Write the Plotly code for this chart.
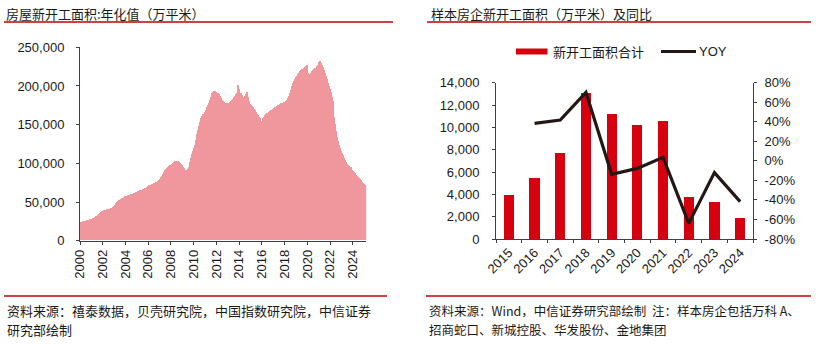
import pandas as pd
import plotly.graph_objects as go

# ---------------- data: left chart (monthly annualized new starts, 万平米) ----------------
start_month = "2000-01-01"
area_2000 = [23300, 23700, 24100, 24500, 24900, 25300, 25700, 26100, 26500, 26900, 27200, 27500]
area_2001 = [27800, 28500, 29300, 30100, 31000, 31900, 32800, 33700, 34500, 35400, 36400, 37400]
area_2002 = [38400, 38800, 39200, 39600, 40000, 40400, 40800, 41200, 41600, 42000, 43000, 44500]
area_2003 = [46000, 47300, 48500, 49600, 50700, 51700, 52700, 53600, 54400, 55200, 56000, 56900]
area_2004 = [57600, 58000, 58400, 58800, 59200, 59600, 60000, 60500, 61000, 61500, 62000, 62600]
area_2005 = [63200, 63700, 64200, 64700, 65200, 65700, 66200, 66700, 67400, 68200, 69200, 70200]
area_2006 = [71000, 71500, 72000, 72500, 73000, 73500, 74000, 74500, 75000, 76000, 77200, 78500]
area_2007 = [80000, 81500, 83500, 85500, 88000, 90500, 92500, 94000, 95000, 96000, 97000, 97500]
area_2008 = [98000, 99000, 100000, 101000, 102000, 102500, 103000, 102500, 101500, 100000, 98500, 97000]
area_2009 = [95000, 93000, 91000, 90500, 91000, 92500, 95000, 98000, 101000, 106000, 112000, 116000]
area_2010 = [119000, 123000, 130000, 137000, 143000, 148000, 153000, 158000, 161000, 163000, 164000, 166000]
area_2011 = [168000, 170000, 172000, 175000, 178000, 182000, 186000, 190000, 192000, 193500, 193000, 191500]
area_2012 = [190500, 190000, 189000, 187000, 184000, 182000, 180000, 179000, 178000, 177500, 177000, 176700]
area_2013 = [177000, 178000, 179000, 180000, 181500, 183000, 185000, 187000, 189000, 191000, 200500, 196000]
area_2014 = [191000, 190000, 188000, 186000, 185000, 186000, 187000, 189000, 192000, 186000, 180000, 176000]
area_2015 = [175000, 174000, 172000, 170000, 168000, 166000, 164000, 162000, 160000, 158000, 156000, 154700]
area_2016 = [156000, 158000, 160000, 162000, 163500, 164500, 165000, 166000, 167000, 168000, 169000, 170000]
area_2017 = [171000, 172000, 173000, 174000, 175000, 175500, 176000, 176500, 177000, 177500, 178000, 178500]
area_2018 = [179500, 180500, 182000, 184000, 187000, 191000, 195000, 199000, 203000, 206000, 209000, 211000]
area_2019 = [212500, 214000, 215500, 217000, 218500, 220000, 221000, 222000, 223000, 224000, 225500, 227000]
area_2020 = [216000, 215500, 215000, 217000, 219000, 220500, 221500, 222500, 223000, 224000, 225000, 226500]
area_2021 = [231000, 231500, 229000, 227000, 224000, 220000, 216000, 212000, 208000, 204000, 200000, 196000]
area_2022 = [192000, 186000, 180000, 170000, 160000, 150000, 142000, 134000, 128000, 123000, 119000, 116000]
area_2023 = [113000, 110000, 107000, 104000, 101000, 98500, 97000, 96000, 95500, 94800, 93000, 91000]
area_2024 = [89500, 88000, 86500, 85000, 83500, 82000, 80500, 79000, 77500, 76000, 74500, 73000]
area_2025 = [71500, 70500]

annual_area = (area_2000 + area_2001 + area_2002 + area_2003 + area_2004 + area_2005 + area_2006
               + area_2007 + area_2008 + area_2009 + area_2010 + area_2011 + area_2012 + area_2013
               + area_2014 + area_2015 + area_2016 + area_2017 + area_2018 + area_2019 + area_2020
               + area_2021 + area_2022 + area_2023 + area_2024 + area_2025)
months = pd.date_range(start_month, periods=len(annual_area), freq="MS")

# ---------------- data: right chart ----------------
years = ["2015", "2016", "2017", "2018", "2019", "2020", "2021", "2022", "2023", "2024"]
sample_area = [3950, 5450, 7700, 13100, 11200, 10250, 10600, 3820, 3320, 1930]
yoy = [None, 0.384, 0.418, 0.700, -0.138, -0.077, 0.036, -0.640, -0.120, -0.418]
yoy_tickvals = [-0.8, -0.6, -0.4, -0.2, 0.0, 0.2, 0.4, 0.6, 0.8]
yoy_ticktext = ["-80%", "-60%", "-40%", "-20%", "0%", "20%", "40%", "60%", "80%"]

left_title = "房屋新开工面积:年化值（万平米）"
right_title = "样本房企新开工面积（万平米）及同比"
left_source = ["资料来源：禧泰数据，贝壳研究院，中国指数研究院，中信证券", "研究部绘制"]
right_source = ["资料来源：Wind，中信证券研究部绘制  注：样本房企包括万科 A、",
                "招商蛇口、新城控股、华发股份、金地集团"]
legend_bar = "新开工面积合计"
legend_line = "YOY"

W, H = 819, 345
FONT = "Liberation Sans, Arial, Noto Sans CJK SC, sans-serif"
CJK = "Noto Sans CJK SC, Liberation Sans, sans-serif"
TXT = "#1a1a1a"
AX = "#404040"
RED = "#C00000"


def px(x):
    return x / W


def py(y):
    return 1 - y / H


fig = go.Figure()

fig.add_trace(go.Bar(
    x=months, y=annual_area, xaxis="x", yaxis="y",
    xperiod="M1", xperiodalignment="middle",
    marker=dict(color="#EF979D", line=dict(width=0)),
    showlegend=False, hoverinfo="skip",
))

fig.add_trace(go.Bar(
    x=years, y=sample_area, xaxis="x2", yaxis="y2", width=0.4,
    marker=dict(color="#D7000F", line=dict(width=0)),
    showlegend=False,
))
fig.add_trace(go.Scatter(
    x=years, y=yoy, xaxis="x2", yaxis="y3", mode="lines",
    line=dict(color="#231815", width=3.2),
    showlegend=False,
))

tickfont = dict(family=FONT, size=13, color=TXT)
common = dict(ticks="outside", ticklen=3, tickcolor=AX, showline=True, linecolor=AX,
              linewidth=1, showgrid=False, zeroline=False, tickfont=tickfont, automargin=False)

fig.update_layout(
    width=W, height=H, autosize=False,
    margin=dict(l=0, r=0, t=0, b=0, pad=0),
    paper_bgcolor="white", plot_bgcolor="white",
    bargap=0,
    showlegend=False,
    xaxis=dict(
        domain=[px(80), px(366.2)], anchor="y",
        type="date", range=["2000-01-01", "2025-03-01"],
        tick0="2000-01-01", dtick="M24", tickformat="%Y",
        tickangle=-90, **common,
    ),
    yaxis=dict(
        domain=[py(240.7), py(47.3)], anchor="x",
        range=[0, 250000], dtick=50000, tickformat=",d",
        ticklabelstandoff=9, **common,
    ),
    xaxis2=dict(
        domain=[px(496), px(753)], anchor="y2",
        type="category", tickangle=-45, tickson="boundaries", **common,
    ),
    yaxis2=dict(
        domain=[py(239), py(82.7)], anchor="x2",
        range=[0, 14000], dtick=2000, tickformat=",d",
        ticklabelstandoff=10, **common,
    ),
    yaxis3=dict(
        overlaying="y2", side="right", anchor="x2",
        range=[-0.8, 0.8], tickvals=yoy_tickvals, ticktext=yoy_ticktext,
        ticklabelstandoff=5, **common,
    ),
)

shapes = [
    dict(type="line", xref="paper", yref="paper", x0=px(4), x1=px(393), y0=py(22), y1=py(22),
         line=dict(color=RED, width=1.3)),
    dict(type="line", xref="paper", yref="paper", x0=px(427), x1=px(811), y0=py(22), y1=py(22),
         line=dict(color=RED, width=1.3)),
    dict(type="line", xref="paper", yref="paper", x0=px(4), x1=px(387), y0=py(296), y1=py(296),
         line=dict(color=RED, width=1.3)),
    dict(type="line", xref="paper", yref="paper", x0=px(426), x1=px(811), y0=py(296), y1=py(296),
         line=dict(color=RED, width=1.3)),
    # legend glyphs
    dict(type="rect", xref="paper", yref="paper", x0=px(516), x1=px(547.5), y0=py(54.5), y1=py(48.5),
         fillcolor="#D7000F", line=dict(width=0)),
    dict(type="line", xref="paper", yref="paper", x0=px(661), x1=px(696), y0=py(51.5), y1=py(51.5),
         line=dict(color="#231815", width=3.2)),
]
fig.update_layout(shapes=shapes)

ann = []


def add_text(text, x, y, size, family=CJK):
    ann.append(dict(text=text, xref="paper", yref="paper", x=px(x), y=py(y),
                    xanchor="left", yanchor="middle", showarrow=False,
                    font=dict(family=family, size=size, color=TXT)))


add_text(left_title, 4, 13.5, 13)
add_text(right_title, 429, 13.5, 13)
add_text(left_source[0], 5, 310, 13)
add_text(left_source[1], 5, 329, 13)
add_text(right_source[0], 427, 310, 12.5)
add_text(right_source[1], 427, 329, 12.5)
add_text(legend_bar, 551, 51.5, 13)
add_text(legend_line, 697, 51.5, 13, FONT)

fig.update_layout(annotations=ann)

fig.write_html("out.html")
